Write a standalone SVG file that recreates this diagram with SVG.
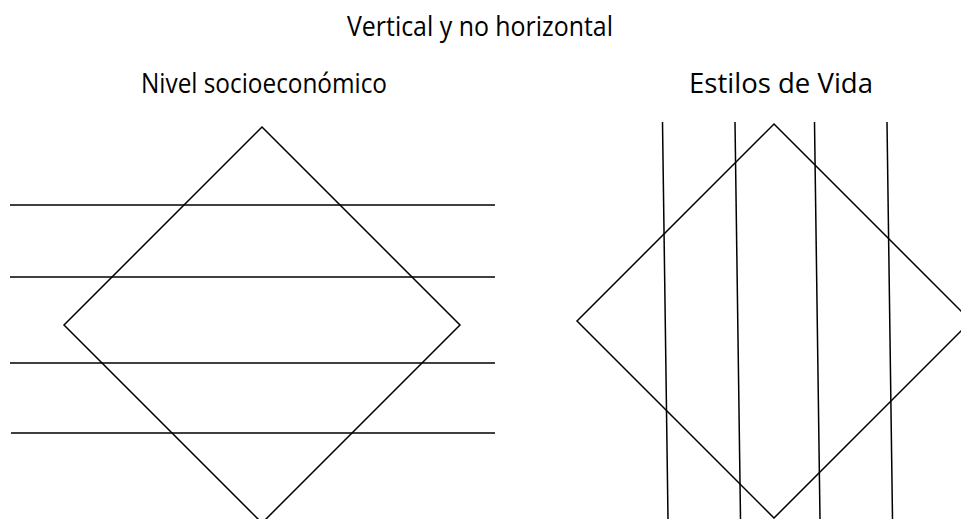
<svg xmlns="http://www.w3.org/2000/svg" width="961" height="519" viewBox="0 0 961 519">
<style>
.t{font-family:"Open Sans","Liberation Sans",sans-serif;font-size:26.5px;fill:#000;text-anchor:middle}
.s{stroke:#000;stroke-width:1.5;fill:none}
</style>
<rect width="961" height="519" fill="#fff"/>
<g id="title"><text class="t" x="480" y="36" textLength="266" lengthAdjust="spacingAndGlyphs">Vertical y no horizontal</text></g>
<g id="label-left"><text class="t" x="264" y="93" textLength="246" lengthAdjust="spacingAndGlyphs">Nivel socioeconómico</text></g>
<g id="label-right"><text class="t" x="781" y="93" textLength="184" lengthAdjust="spacingAndGlyphs">Estilos de Vida</text></g>
<g id="diamond-left"><polygon class="s" points="262,127 460,325 262,523 64,325"/></g>
<g id="diamond-right"><polygon class="s" points="774,124 971,321 774,518 577,321"/></g>
<g id="connectors">
<line class="s" x1="10" y1="205" x2="495" y2="205"/>
<line class="s" x1="10" y1="277" x2="495" y2="277"/>
<line class="s" x1="10" y1="363" x2="495" y2="363"/>
<line class="s" x1="11" y1="433" x2="495" y2="433"/>
<line class="s" x1="662.5" y1="122" x2="668" y2="519"/>
<line class="s" x1="735" y1="122" x2="740.5" y2="519"/>
<line class="s" x1="814.5" y1="122" x2="820" y2="519"/>
<line class="s" x1="887" y1="122" x2="892.5" y2="519"/>
</g>
</svg>
